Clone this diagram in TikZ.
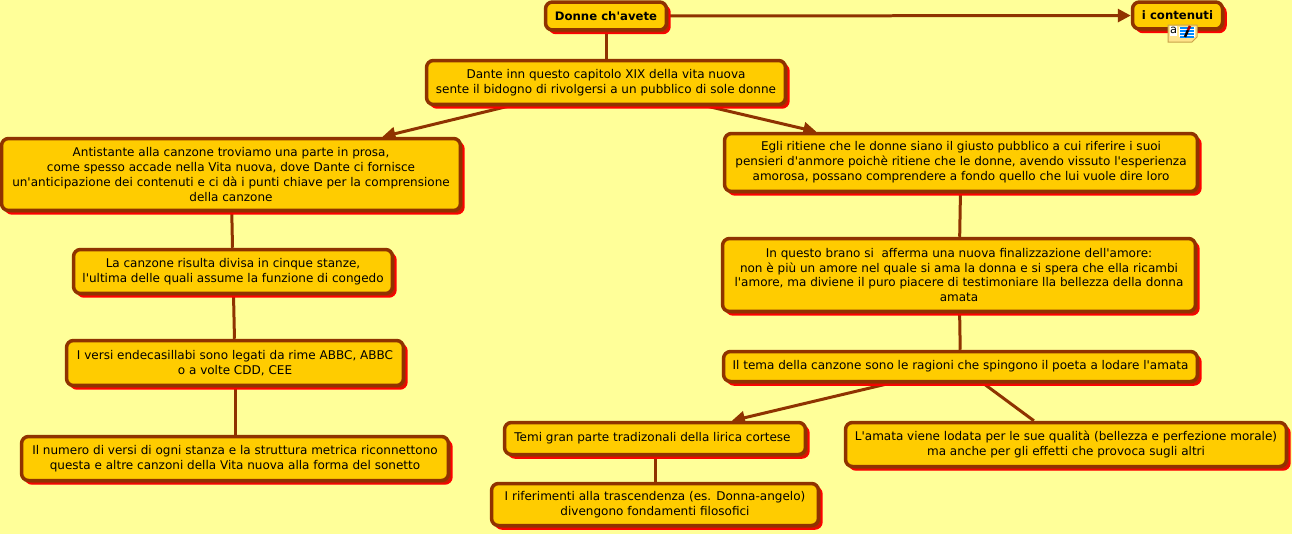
\documentclass[tikz,border=0pt]{standalone}
\usepackage{fontspec}
\setmainfont{DejaVu Sans}[Ligatures=TeXOff]
\usepackage{xcolor}
\usetikzlibrary{arrows.meta, shadows, backgrounds}
\definecolor{paperyellow}{HTML}{FFFF99}
\definecolor{boxfill}{HTML}{FFCC00}
\definecolor{boxline}{HTML}{8F3300}
\definecolor{boxshadow}{HTML}{CC1A00}
\definecolor{notefill}{HTML}{FFE38A}
\definecolor{noteline}{HTML}{C9A24A}

\begin{document}
\begin{tikzpicture}[
  x=0.02cm, y=-0.02cm,
  concept/.style={rectangle, draw=boxline, fill=boxfill, line width=0.07cm, rounded corners=0.14cm,
                  inner sep=0pt, align=center, text=black,
                  font=\fontsize{6.84}{8.5}\selectfont,
                  drop shadow={shadow xshift=0.07cm, shadow yshift=-0.07cm, fill=boxshadow, draw=red, line width=0.03cm, opacity=1}},
  titleconcept/.style={concept, font=\fontsize{6.65}{8.5}\selectfont\bfseries},
  link/.style={draw=boxline, line width=0.06cm},
  arrowlink/.style={link, -{Triangle[length=0.26cm,width=0.26cm]}}
]
\useasboundingbox (0,0) rectangle (1292,534);

\node[titleconcept, minimum width=2.42cm, minimum height=0.56cm] (title) at (606,16) {Donne ch'avete};
\node[titleconcept, minimum width=1.80cm, minimum height=0.54cm] (contents) at (1177.5,15.5) {i contenuti};
\node[concept, minimum width=7.18cm, minimum height=0.88cm] (intro) at (606,82.5) {Dante inn questo capitolo XIX della vita nuova\\sente il bidogno di rivolgersi a un pubblico di sole donne};

% left column
\node[concept, minimum width=9.18cm, minimum height=1.44cm] (prose) at (231,174.5) {Antistante alla canzone troviamo una parte in prosa,\\come spesso accade nella Vita nuova, dove Dante ci fornisce\\un'anticipazione dei contenuti e ci dà i punti chiave per la comprensione\\della canzone};
\node[concept, minimum width=6.38cm, minimum height=0.88cm] (stanze) at (233,271.5) {La canzone risulta divisa in cinque stanze,\\l'ultima delle quali assume la funzione di congedo};
\node[concept, minimum width=6.74cm, minimum height=0.90cm] (versi) at (235,363) {I versi endecasillabi sono legati da rime ABBC, ABBC\\o a volte CDD, CEE};
\node[concept, minimum width=8.54cm, minimum height=0.88cm] (metrica) at (235,458.5) {Il numero di versi di ogni stanza e la struttura metrica riconnettono\\questa e altre canzoni della Vita nuova alla forma del sonetto};

% right column
\node[concept, minimum width=9.46cm, minimum height=1.16cm] (donne) at (961,162.5) {Egli ritiene che le donne siano il giusto pubblico a cui riferire i suoi\\pensieri d'anmore poichè ritiene che le donne, avendo vissuto l'esperienza\\amorosa, possano comprendere a fondo quello che lui vuole dire loro};
\node[concept, minimum width=9.46cm, minimum height=1.46cm] (brano) at (959,275) {In questo brano si\ \ afferma una nuova finalizzazione dell'amore:\\non è più un amore nel quale si ama la donna e si spera che ella ricambi\\l'amore, ma diviene il puro piacere di testimoniare lla bellezza della donna\\amata};
\node[concept, minimum width=9.48cm, minimum height=0.60cm] (tema) at (960.5,366.5) {Il tema della canzone sono le ragioni che spingono il poeta a lodare l'amata};
\node[concept, minimum width=6.02cm, minimum height=0.64cm] (temi) at (655,438.5) {Temi gran parte tradizonali della lirica cortese\hspace{0.1cm}};
\node[concept, minimum width=8.82cm, minimum height=0.88cm] (amata) at (1066,444.5) {L'amata viene lodata per le sue qualità (bellezza e perfezione morale)\\ma anche per gli effetti che provoca sugli altri};
\node[concept, minimum width=6.54cm, minimum height=0.84cm] (trascendenza) at (655,504.5) {I riferimenti alla trascendenza (es. Donna-angelo)\\divengono fondamenti filosofici};

% note icon
\fill[notefill, draw=noteline, line width=0.02cm] (1168,25) -- (1197,25) -- (1197,37) -- (1192,42) -- (1168,42) -- cycle;
\fill[white] (1170,26) rectangle (1177,36);
\node[inner sep=0pt, font=\fontsize{6.5}{7}\selectfont] (notea) at (1173.5,30.5) {a};
\fill[white] (1179,27) rectangle (1195,37);
\foreach \y in {28,31,34,37} \draw[blue!45!cyan, line width=0.025cm] (1180,\y) -- (1194,\y);
\draw[black, line width=0.05cm] (1185,37) -- (1188,30);
\draw[red!70!black, line width=0.05cm] (1188,30) -- (1190,26);

\begin{scope}[on background layer]
\fill[paperyellow] (0,0) rectangle (1292,534);
\draw[link] (title) -- (intro);
\draw[arrowlink] (title) -- (contents);
\draw[arrowlink] (intro) -- (prose.14.2);
\draw[arrowlink] (intro) -- (donne.168.4);
\draw[link] (prose) -- (stanze);
\draw[link] (stanze) -- (versi);
\draw[link] (versi) -- (metrica);
\draw[link] (donne) -- (brano);
\draw[link] (brano) -- (tema);
\draw[arrowlink] (tema) -- (temi.13);
\draw[link] (tema) -- (amata);
\draw[link] (temi) -- (trascendenza);
\end{scope}
\end{tikzpicture}
\end{document}
